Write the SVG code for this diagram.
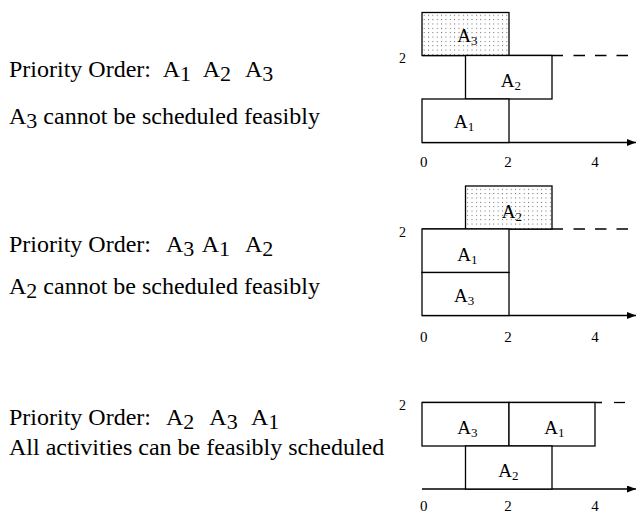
<svg xmlns="http://www.w3.org/2000/svg" width="636" height="514" viewBox="0 0 636 514">
<style>
.t{font-family:"Liberation Serif","Times New Roman",serif;font-size:24px;fill:#000}
.sd{font-size:22px}
.box{fill:#fff;stroke:#000;stroke-width:1.3}
.dot{fill:url(#dots);stroke:#000;stroke-width:1.3}
.lbl{font-family:"Liberation Serif","Times New Roman",serif;font-size:19px;fill:#000}
.sub{font-size:13px}
.tick{font-family:"Liberation Serif","Times New Roman",serif;font-size:15px;fill:#000;text-anchor:middle}
.yl{font-family:"Liberation Serif","Times New Roman",serif;font-size:14px;fill:#000;text-anchor:middle}
.ax{stroke:#000;stroke-width:1.3;fill:none}
.dash{stroke:#000;stroke-width:1.3;fill:none;stroke-dasharray:11.5 10}
</style>
<defs>
<pattern id="dots" width="4.35" height="4.35" patternUnits="userSpaceOnUse">
<rect width="4.35" height="4.35" fill="#fff"/>
<rect x="1.8" y="1.8" width="0.9" height="0.9" fill="#444"/>
</pattern>
<marker id="arr" markerWidth="9" markerHeight="7" refX="9" refY="3.5" orient="auto" markerUnits="userSpaceOnUse">
<path d="M0,0 L9,3.5 L0,7 Z" fill="#000"/>
</marker>
</defs>

<!-- left texts -->
<g id="text1">
<text class="t" y="77"><tspan x="9">Priority Order:</tspan><tspan x="162.7">A</tspan><tspan class="sd" dy="4">1</tspan><tspan x="202.7" dy="-4">A</tspan><tspan class="sd" dy="4">2</tspan><tspan x="245" dy="-4">A</tspan><tspan class="sd" dy="4">3</tspan></text>
<text class="t" y="124"><tspan x="9">A</tspan><tspan class="sd" dy="4">3</tspan><tspan dy="-4"> cannot be scheduled feasibly</tspan></text>
</g>
<g id="text2">
<text class="t" y="252"><tspan x="9">Priority Order:</tspan><tspan x="166">A</tspan><tspan class="sd" dy="4">3</tspan><tspan x="201.7" dy="-4">A</tspan><tspan class="sd" dy="4">1</tspan><tspan x="245" dy="-4">A</tspan><tspan class="sd" dy="4">2</tspan></text>
<text class="t" y="294"><tspan x="9">A</tspan><tspan class="sd" dy="4">2</tspan><tspan dy="-4"> cannot be scheduled feasibly</tspan></text>
</g>
<g id="text3">
<text class="t" y="425"><tspan x="9">Priority Order:</tspan><tspan x="166">A</tspan><tspan class="sd" dy="4">2</tspan><tspan x="209.3" dy="-4">A</tspan><tspan class="sd" dy="4">3</tspan><tspan x="251" dy="-4">A</tspan><tspan class="sd" dy="4">1</tspan></text>
<text class="t" x="9" y="455">All activities can be feasibly scheduled</text>
</g>

<!-- connectors: axes and dashed capacity lines -->
<g id="connectors">
<line class="ax" x1="422" y1="142.5" x2="636" y2="142.5" marker-end="url(#arr)"/>
<line class="ax" x1="422" y1="55.5" x2="563" y2="55.5"/>
<line class="dash" x1="573.5" y1="55.5" x2="636" y2="55.5"/>

<line class="ax" x1="422" y1="315.5" x2="636" y2="315.5" marker-end="url(#arr)"/>
<line class="ax" x1="422" y1="229" x2="563" y2="229"/>
<line class="dash" x1="573.5" y1="229" x2="636" y2="229"/>

<line class="ax" x1="422" y1="489" x2="636" y2="489" marker-end="url(#arr)"/>
<line class="ax" x1="422" y1="402.5" x2="602" y2="402.5"/>
<line class="ax" x1="614" y1="402.5" x2="625" y2="402.5"/>
</g>

<!-- chart 1 -->
<g id="c1-A3"><rect class="dot" x="422" y="12.5" width="87" height="43"/><text class="lbl" x="457.3" y="41.7">A<tspan class="sub" dy="3">3</tspan></text></g>
<g id="c1-A2"><rect class="box" x="465.5" y="55.5" width="86.5" height="43.5"/><text class="lbl" x="500.7" y="86.7">A<tspan class="sub" dy="3">2</tspan></text></g>
<g id="c1-A1"><rect class="box" x="422" y="99" width="87" height="43.5"/><text class="lbl" x="454" y="128.3">A<tspan class="sub" dy="3">1</tspan></text></g>
<g id="c1-labels">
<text class="yl" x="402.5" y="62.5">2</text>
<text class="tick" x="423.8" y="166.7">0</text>
<text class="tick" x="508" y="166.7">2</text>
<text class="tick" x="595" y="166.7">4</text>
</g>

<!-- chart 2 -->
<g id="c2-A2"><rect class="dot" x="465.5" y="186" width="86.5" height="43"/><text class="lbl" x="501.7" y="218.3">A<tspan class="sub" dy="3">2</tspan></text></g>
<g id="c2-A1"><rect class="box" x="422" y="229" width="87" height="43.5"/><text class="lbl" x="457.3" y="260.7">A<tspan class="sub" dy="3">1</tspan></text></g>
<g id="c2-A3"><rect class="box" x="422" y="272.5" width="87" height="43"/><text class="lbl" x="454" y="301.7">A<tspan class="sub" dy="3">3</tspan></text></g>
<g id="c2-labels">
<text class="yl" x="402.5" y="236.5">2</text>
<text class="tick" x="423.8" y="341.5">0</text>
<text class="tick" x="508" y="341.5">2</text>
<text class="tick" x="595" y="341.5">4</text>
</g>

<!-- chart 3 -->
<g id="c3-A3"><rect class="box" x="422" y="402.5" width="87" height="43.5"/><text class="lbl" x="457.3" y="434">A<tspan class="sub" dy="3">3</tspan></text></g>
<g id="c3-A1"><rect class="box" x="509" y="402.5" width="86" height="43.5"/><text class="lbl" x="544.3" y="434">A<tspan class="sub" dy="3">1</tspan></text></g>
<g id="c3-A2"><rect class="box" x="465.5" y="446" width="86.5" height="43"/><text class="lbl" x="498.3" y="476.7">A<tspan class="sub" dy="3">2</tspan></text></g>
<g id="c3-labels">
<text class="yl" x="402.5" y="410">2</text>
<text class="tick" x="423.8" y="510.5">0</text>
<text class="tick" x="508" y="510.5">2</text>
<text class="tick" x="595" y="510.5">4</text>
</g>
</svg>
